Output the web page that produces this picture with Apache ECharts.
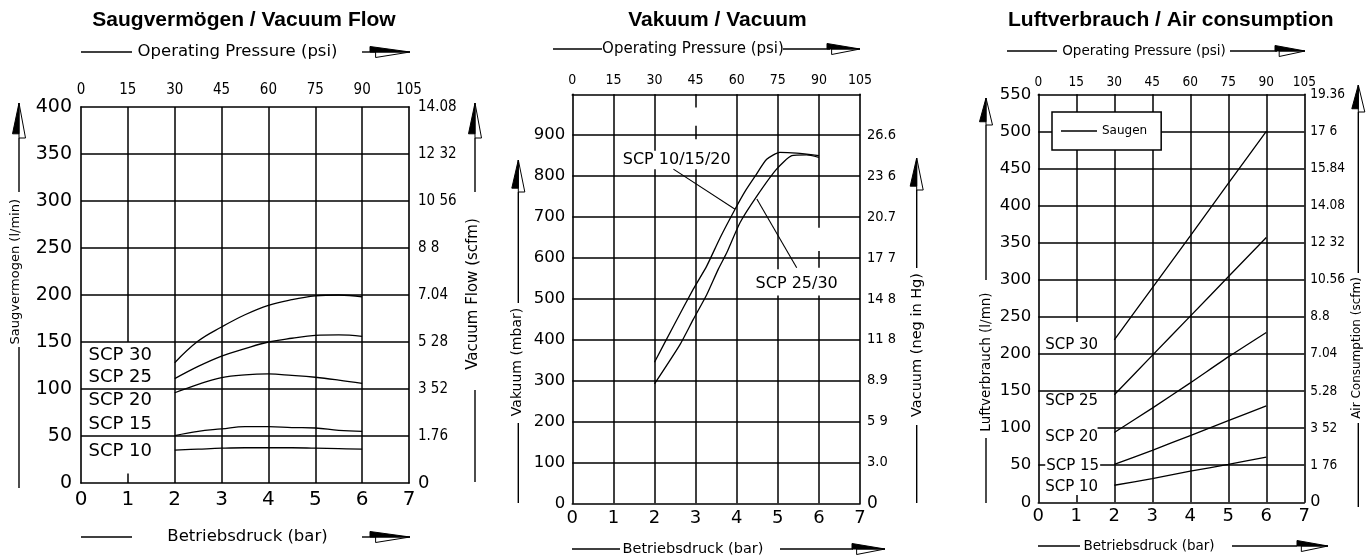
<!DOCTYPE html>
<html><head><meta charset="utf-8">
<script src="https://cdn.jsdelivr.net/npm/echarts@6/dist/echarts.min.js"></script>
<style>html,body{margin:0;padding:0;background:#fff}#c{width:1372px;height:556px}</style>
</head><body><div id="c"></div>
<script>
// ================= DATA =================
const psiLabels = ['0','15','30','45','60','75','90','105'];

// Panel 1 : Saugvermögen / Vacuum Flow (l/min over bar)
const flowPressure = [2, 2.5, 3, 3.5, 4, 4.5, 5, 5.5, 6];
const flowSCP30 = [128, 151, 166, 179, 189, 195, 199, 200, 198];
const flowSCP25 = [111, 124, 135, 143, 150, 154, 157, 157.5, 156];
const flowSCP20 = [96, 105, 112, 115, 116, 114.5, 112.5, 109.5, 106];
const flowSCP15 = [50.5, 55, 57.5, 60, 60, 59, 58.5, 56, 55];
const flowSCP10 = [35, 36, 37, 37.5, 37.5, 37.5, 37, 36.5, 36];
const flowNames = ['SCP 30', 'SCP 25', 'SCP 20', 'SCP 15', 'SCP 10'];
const flowRightLabels = ['0', '1.76', '3 52', '5 28', '7.04', '8 8', '10 56', '12 32', '14.08'];

// Panel 2 : Vakuum / Vacuum (mbar over bar)
const vacNames = ['SCP 10/15/20', 'SCP 25/30'];
const vacPressureA = [2, 2.46, 2.94, 3.27, 3.6, 3.96, 4.2, 4.45, 4.73, 5.05, 5.46, 6];
const vacSCP10_15_20 = [345, 433, 523, 580, 650, 719, 762, 800, 841, 858, 856, 850];
const vacPressureB = [2, 2.62, 2.94, 3.27, 3.55, 3.76, 4.08, 4.49, 4.97, 5.34, 5.7, 6];
const vacSCP25_30 = [292, 388, 449, 510, 572, 613, 686, 751, 817, 850, 852, 846];
const vacRightLabels = ['0', '3.0', '5 9', '8.9', '11 8', '14 8', '17 7', '20.7', '23 6', '26.6', ''];

// Panel 3 : Luftverbrauch / Air consumption (l/mn over bar)
const airPressure = [2, 3, 4, 5, 6];
const airSCP30 = [219, 289, 359, 430, 500];
const airSCP25 = [145, 198, 251, 304, 357];
const airSCP20 = [94, 127, 161, 196, 229];
const airSCP15 = [51, 70, 90, 110, 130];
const airSCP10 = [23, 32, 42, 51, 61];
const airNames = ['SCP 30', 'SCP 25', 'SCP 20', 'SCP 15', 'SCP 10'];
const airLegendName = 'Saugen';
const airRightLabels = ['0', '1 76', '3 52', '5.28', '7.04', '8.8', '10.56', '12 32', '14.08', '15.84', '17 6', '19.36'];

const titles = ['Saugvermögen / Vacuum Flow', 'Vakuum / Vacuum', 'Luftverbrauch / Air consumption'];
const topAxisName = 'Operating Pressure (psi)';
const bottomAxisName = 'Betriebsdruck (bar)';
const leftNames = ['Saugvermogen (l/min)', 'Vakuum (mbar)', 'Luftverbrauch (l/mn)'];
const rightNames = ['Vacuum Flow (scfm)', 'Vacuum (neg in Hg)', 'Air Consumption (scfm)'];

// ================= LAYOUT / STYLE =================
const CAD = "'DejaVu Sans', sans-serif";
const NARROW = "'Liberation Sans Narrow', 'DejaVu Sans Condensed', 'DejaVu Sans', sans-serif";
const TITLEF = "'Liberation Sans', Arial, sans-serif";

const panels = [
  {grid:{left:81, top:107, width:328, height:376}, ymax:400, yint:50,
   leftFs:19, leftM:9, botFs:20, botM:7, topFs:15, topM:9, rightFs:15, rightM:9, zeroFs:18,
   rightLabels: flowRightLabels, titleX:244, hideMax:false},
  {grid:{left:572.3, top:94.3, width:287.7, height:409}, ymax:1000, yint:100,
   leftFs:16.5, leftM:7, botFs:18, botM:6, topFs:14, topM:7, rightFs:14.5, rightM:7, zeroFs:17,
   rightLabels: vacRightLabels, titleX:717.5, hideMax:true},
  {grid:{left:1038.3, top:94.3, width:266, height:408}, ymax:550, yint:50,
   leftFs:16.5, leftM:7, botFs:18, botM:5, topFs:13.5, topM:5, rightFs:13.5, rightM:6, zeroFs:16,
   rightLabels: airRightLabels, titleX:1170.8, hideMax:false}
];

// label anchors (data coordinates of each panel)
const flowLabelAt = [[0.15,136],[0.15,112],[0.15,88],[0.15,62],[0.15,34]];
const vacLabelAt = [[2.54,839],[5.46,537]];
const airLabelAt = [[0.17,212],[0.17,136.5],[0.17,88],[0.17,49],[0.17,20]];
const vacLeaders = [[[2.46,817],[3.96,719]], [[4.49,744],[5.46,576]]];

// grid line segments (data coordinates)
function seg(x1,y1,x2,y2){ return [{coord:[x1,y1]},{coord:[x2,y2]}]; }
function vFull(xs, ymax){ return xs.map(x => seg(x,0,x,ymax)); }
function hFull(ys){ return ys.map(y => seg(0,y,7,y)); }
const gridSegs = [
  [seg(1,150,1,400), seg(1,0,1,10), ...vFull([2,3,4,5,6],400), ...hFull([50,100,150,200,250,300,350])],
  [...vFull([1,4],1000), seg(2,862,2,1000), seg(2,0,2,817),
   seg(3,968,3,1000), seg(3,890,3,923), seg(3,0,3,817),
   seg(5,572,5,1000), seg(5,0,5,508),
   seg(6,674,6,1000), seg(6,576,6,617), seg(6,0,6,508),
   ...hFull([100,200,300,400,500,600,700,800,900])],
  [seg(1,243,1,550), seg(1,0,1,10), ...vFull([2,3,4,5,6],550),
   seg(1.56,100,7,100), ...hFull([50,150,200,250,300,350,400,450,500])]
];

// ================= OPTION =================
const xAxes = [], yAxes = [], grids = [], titleOpts = [];
panels.forEach((p, gi) => {
  grids.push(Object.assign({containLabel:false}, p.grid));
  titleOpts.push({text: titles[gi], left: p.titleX, top: 10, textAlign: 'center', padding: 0,
    textStyle: {fontFamily: TITLEF, fontWeight: 'bold', fontSize: 21, color: '#000'}});
  const axLine = {show: true, onZero: false, lineStyle: {color: '#000', width: 1.6}};
  xAxes.push({gridIndex: gi, type: 'value', min: 0, max: 7, interval: 1, position: 'bottom',
    axisLine: axLine, axisTick: {show: false}, splitLine: {show: false},
    axisLabel: {margin: p.botM, fontSize: p.botFs, fontFamily: CAD, color: '#000'}});
  xAxes.push({gridIndex: gi, type: 'value', min: 0, max: 7, interval: 1, position: 'top',
    axisLine: axLine, axisTick: {show: false}, splitLine: {show: false},
    axisLabel: {margin: p.topM, fontSize: p.topFs, fontFamily: NARROW, color: '#000',
      formatter: v => psiLabels[Math.round(v)]}});
  yAxes.push({gridIndex: gi, type: 'value', min: 0, max: p.ymax, interval: p.yint, position: 'left',
    axisLine: axLine, axisTick: {show: false}, splitLine: {show: false},
    axisLabel: {margin: p.leftM, fontSize: p.leftFs, fontFamily: CAD, color: '#000',
      formatter: v => (p.hideMax && v === p.ymax) ? '' : String(v)}});
  yAxes.push({gridIndex: gi, type: 'value', min: 0, max: p.ymax, interval: p.yint, position: 'right',
    axisLine: axLine, axisTick: {show: false}, splitLine: {show: false},
    axisLabel: {margin: p.rightM, fontSize: p.rightFs, fontFamily: NARROW, color: '#000',
      formatter: v => { const i = Math.round(v / p.yint); return i === 0 ? '{z|0}' : (p.rightLabels[i] || ''); },
      rich: {z: {fontSize: p.zeroFs, fontFamily: CAD, color: '#000'}}}});
});

function curve(name, xs, ys, gi, smooth){
  return {type: 'line', name, xAxisIndex: 2*gi, yAxisIndex: 2*gi,
    data: xs.map((x, i) => [x, ys[i]]), symbol: 'none', showSymbol: false, smooth: smooth,
    lineStyle: {color: '#000', width: 1.3}, itemStyle: {color: '#000'}, z: 3, silent: true};
}
function labelSeries(gi, names, at, opts, extraMark){
  return {type: 'scatter', xAxisIndex: 2*gi, yAxisIndex: 2*gi, silent: true, z: 5,
    symbolSize: 1, itemStyle: {color: 'rgba(0,0,0,0)', opacity: 1},
    data: at.map((p, i) => {
      const d = {value: [p[0], p[1], names[i]]};
      if (opts.bgIndex === i) d.label = {backgroundColor: '#fff', padding: [0, 1]};
      return d;
    }),
    label: {show: true, position: opts.position, distance: 0, color: '#000', opacity: 1,
      textBorderWidth: 0, fontFamily: CAD, fontSize: opts.fs, formatter: q => q.data.value[2]},
    markLine: {silent: true, symbol: ['none', 'none'], label: {show: false},
      lineStyle: {color: '#000', width: 1.5, type: 'solid', opacity: 1}, emphasis: {disabled: true},
      data: gridSegs[gi].concat(extraMark || [])}
  };
}

const leaderSegs = vacLeaders.map(l => [{coord: l[0], lineStyle: {width: 1.1}}, {coord: l[1]}]);

const series = [
  curve(flowNames[0], flowPressure, flowSCP30, 0, 0.4),
  curve(flowNames[1], flowPressure, flowSCP25, 0, 0.4),
  curve(flowNames[2], flowPressure, flowSCP20, 0, 0.4),
  curve(flowNames[3], flowPressure, flowSCP15, 0, 0.4),
  curve(flowNames[4], flowPressure, flowSCP10, 0, 0.4),
  labelSeries(0, flowNames, flowLabelAt, {position: 'right', fs: 18}),
  curve(vacNames[0], vacPressureA, vacSCP10_15_20, 1, 0.2),
  curve(vacNames[1], vacPressureB, vacSCP25_30, 1, 0.2),
  labelSeries(1, vacNames, vacLabelAt, {position: 'inside', fs: 16}, leaderSegs),
  curve(airLegendName, airPressure, airSCP30, 2, 0.2),
  curve(airLegendName, airPressure, airSCP25, 2, 0.2),
  curve(airLegendName, airPressure, airSCP20, 2, 0.2),
  curve(airLegendName, airPressure, airSCP15, 2, 0.2),
  curve(airLegendName, airPressure, airSCP10, 2, 0.2),
  labelSeries(2, airNames, airLabelAt, {position: 'right', fs: 15, bgIndex: 3})
];

// ================= DECORATIONS (axis names with arrows) =================
const graphics = [];
function L(x1, y1, x2, y2, w){ graphics.push({type: 'line', silent: true, shape: {x1, y1, x2, y2}, style: {stroke: '#000', lineWidth: w || 1.4}}); }
function T(text, x, y, fs, rot){
  graphics.push({type: 'text', silent: true, x, y, rotation: rot || 0,
    style: {text, x: 0, y: 0, fontSize: fs, fontFamily: CAD, fill: '#000',
      align: 'center', verticalAlign: 'middle', textAlign: 'center', textVerticalAlign: 'middle'}});
}
function P(points, fill){ graphics.push({type: 'polygon', silent: true, shape: {points}, style: {fill, stroke: '#000', lineWidth: 1}}); }
function hDecor(y, segs, text, tcx, fs, head){
  segs.forEach(s => L(s[0], y, s[1], y));
  T(text, tcx, y, fs);
  const a = head[0], b = head[1], H = 11, a2 = a + (b - a) * 0.14;
  P([[b, y], [a2, y + H/2], [a2, y]], '#fff');
  P([[b, y], [a, y - H/2], [a, y]], '#000');
}
function vDecor(x, tx, headTop, headBot, upperEnd, text, tcy, fs, lower){
  const W = 13, hb2 = headBot - (headBot - headTop) * 0.12;
  L(x, headBot, x, upperEnd);
  P([[x, headTop], [x + W/2, headBot], [x, headBot]], '#fff');
  P([[x, headTop], [x - W/2, hb2], [x, hb2]], '#000');
  T(text, tx, tcy, fs, Math.PI / 2);
  L(x, lower[0], x, lower[1]);
}
hDecor(52, [[81,132],[362,377]], topAxisName, 237.5, 16.5, [370,410]);
hDecor(537, [[81,132],[362,377]], bottomAxisName, 247.5, 16.5, [370,410]);
hDecor(49, [[553,602],[783,830]], topAxisName, 693, 15, [827,860]);
hDecor(549, [[572,620],[780,853]], bottomAxisName, 693, 14.5, [852,885]);
hDecor(51, [[1007,1057],[1230,1277]], topAxisName, 1144, 13.5, [1275,1305]);
hDecor(546, [[1038,1080],[1232,1297]], bottomAxisName, 1149, 13.5, [1297,1328]);

vDecor(19, 16, 103, 138, 192, leftNames[0], 271.7, 13, [347, 488]);
vDecor(475, 473.5, 103, 138, 192, rightNames[0], 294, 15, [390, 482]);
vDecor(518.3, 517.5, 160, 192, 303, leftNames[1], 362, 14, [423, 503]);
vDecor(916.7, 917, 158, 190, 268, rightNames[1], 345, 14.5, [425, 503]);
vDecor(986, 986, 98, 125, 280, leftNames[2], 362, 13.5, [438, 503]);
vDecor(1358.3, 1357, 85, 112, 273, rightNames[2], 348, 12, [423, 507]);

const option = {
  animation: false,
  backgroundColor: '#fff',
  title: titleOpts,
  grid: grids,
  xAxis: xAxes,
  yAxis: yAxes,
  legend: {data: [{name: airLegendName, icon: 'rect'}], left: 1052, top: 112,
    itemWidth: 36, itemHeight: 1.4, itemGap: 5, padding: [13, 14, 13, 9],
    borderColor: '#000', borderWidth: 1.5, backgroundColor: '#fff', selectedMode: false,
    textStyle: {fontFamily: CAD, fontSize: 12, color: '#000'}, z: 6},
  series,
  graphic: graphics
};
const chart = echarts.init(document.getElementById('c'), null, {renderer: 'canvas'});
chart.setOption(option);
</script></body></html>
